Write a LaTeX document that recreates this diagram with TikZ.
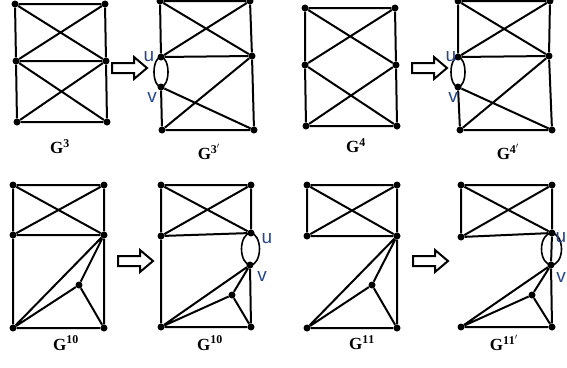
\documentclass[tikz,border=0pt]{standalone}
\usepackage{fontspec}
\setmainfont{Liberation Serif}
\newfontfamily\uvfont{Liberation Sans}
\usetikzlibrary{calc}
\definecolor{uvcol}{RGB}{40,70,140}
\tikzset{
  dot/.style={circle,fill=black,inner sep=0pt,minimum size=7pt},
  edge/.style={line width=2pt},
  lens/.style={line width=1.6pt},
  harrow/.style={line width=2pt,line join=miter},
  glabel/.style={font=\fontsize{17}{17}\selectfont\bfseries},
  uvlabel/.style={font=\uvfont\fontsize{19}{19}\selectfont,text=uvcol,inner sep=0pt}
}
\begin{document}
\begin{tikzpicture}[x=1pt,y=-1pt]
\useasboundingbox (0,0) rectangle (567,367);
% ---------- G3 ----------
\node[dot] (a1) at (15,4) {};
\node[dot] (a2) at (105,4) {};
\node[dot] (a3) at (16,61) {};
\node[dot] (a4) at (106,61) {};
\node[dot] (a5) at (17,122) {};
\node[dot] (a6) at (107,122) {};
\draw[edge] (a1)--(a2) (a1)--(a3) (a3)--(a5) (a2)--(a4) (a4)--(a6) (a5)--(a6) (a3)--(a4)
  (a1)--(a4) (a2)--(a3) (a3)--(a6) (a4)--(a5);
\node[glabel] (la) at (60,147) {G$^{\mathbf 3}$};
% arrow
\draw[harrow] (112,63) -- (134,63) -- (134,57) -- (147,68) -- (134,79) -- (134,73) -- (112,73) -- cycle;
% ---------- G3' ----------
\node[dot] (b1) at (160,1) {};
\node[dot] (b2) at (250,1) {};
\node[dot] (bu) at (161,57) {};
\node[dot] (b4) at (252,56) {};
\node[dot] (bv) at (161,87) {};
\node[dot] (b5) at (162,130) {};
\node[dot] (b6) at (254,130) {};
\draw[edge] (b1)--(b2) (b1)--(bu) (b2)--(b4) (b4)--(b6) (bu)--(b4) (b1)--(b4) (b2)--(bu)
  (bv)--(b5) (b5)--(b6) (bv)--(b6) (b4)--(b5);
\draw[lens] ($(bu)!0.5!(bv)$) ellipse [x radius=7, y radius=15];
\node[uvlabel] (lbu) at (149,57) {u};
\node[uvlabel] (lbv) at (152,97) {v};
\node[glabel] (lb) at (209,152) {G$^{\mathbf{3'}}$};
% ---------- G4 ----------
\node[dot] (c1) at (305,8) {};
\node[dot] (c2) at (395,8) {};
\node[dot] (c3) at (305,65) {};
\node[dot] (c4) at (396,65) {};
\node[dot] (c5) at (306,126) {};
\node[dot] (c6) at (397,126) {};
\draw[edge] (c1)--(c2) (c1)--(c3) (c3)--(c5) (c2)--(c4) (c4)--(c6) (c5)--(c6)
  (c1)--(c4) (c2)--(c3) (c3)--(c6) (c4)--(c5);
\node[glabel] (lc) at (356,146) {G$^{\mathbf 4}$};
\draw[harrow] (412,63) -- (434,63) -- (434,57) -- (447,68) -- (434,79) -- (434,73) -- (412,73) -- cycle;
% ---------- G4' ----------
\node[dot] (d1) at (458,1) {};
\node[dot] (d2) at (550,1) {};
\node[dot] (du) at (458,57) {};
\node[dot] (d4) at (549,56) {};
\node[dot] (dv) at (458,87) {};
\node[dot] (d5) at (460,130) {};
\node[dot] (d6) at (552,130) {};
\draw[edge] (d1)--(d2) (d1)--(du) (d2)--(d4) (d4)--(d6) (du)--(d4) (d1)--(d4) (d2)--(du)
  (dv)--(d5) (d5)--(d6) (dv)--(d6) (d4)--(d5);
\draw[lens] ($(du)!0.5!(dv)$) ellipse [x radius=7, y radius=15];
\node[uvlabel] (ldu) at (451,57) {u};
\node[uvlabel] (ldv) at (453,97) {v};
\node[glabel] (ld) at (508,152) {G$^{\mathbf{4'}}$};
% ---------- G10 ----------
\node[dot] (e1) at (13,185) {};
\node[dot] (e2) at (104,185) {};
\node[dot] (e3) at (13,235) {};
\node[dot] (e4) at (104,235) {};
\node[dot] (e5) at (13,328) {};
\node[dot] (e6) at (104,328) {};
\node[dot] (ep) at (79,285) {};
\draw[edge] (e1)--(e2) (e1)--(e3) (e3)--(e5) (e2)--(e4) (e4)--(e6) (e5)--(e6) (e3)--(e4)
  (e1)--(e4) (e2)--(e3) (e4)--(e5) (e4)--(ep) (ep)--(e5) (ep)--(e6);
\node[glabel] (le) at (66,343) {G$^{\mathbf{10}}$};
\draw[harrow] (118,256) -- (140,256) -- (140,250) -- (153,261) -- (140,272) -- (140,266) -- (118,266) -- cycle;
% ---------- G10' ----------
\node[dot] (f1) at (161,185) {};
\node[dot] (f2) at (251,185) {};
\node[dot] (f3) at (161,236) {};
\node[dot] (fu) at (251,233) {};
\node[dot] (fv) at (250,265) {};
\node[dot] (f5) at (161,327) {};
\node[dot] (f6) at (251,327) {};
\node[dot] (fp) at (232,295) {};
\draw[edge] (f1)--(f2) (f1)--(f3) (f3)--(f5) (f2)--(fu) (fv)--(f6) (f5)--(f6) (f3)--(fu)
  (f1)--(fu) (f2)--(f3) (fv)--(f5) (fv)--(fp) (fp)--(f5) (fp)--(f6);
\draw[lens] ($(fu)!0.5!(fv)$) ellipse [x radius=9, y radius=16];
\node[uvlabel] (lfu) at (267,239) {u};
\node[uvlabel] (lfv) at (262,276) {v};
\node[glabel] (lf) at (210,343) {G$^{\mathbf{10}}$};
% ---------- G11 ----------
\node[dot] (g1) at (307,185) {};
\node[dot] (g2) at (397,185) {};
\node[dot] (g3) at (307,236) {};
\node[dot] (g4) at (397,236) {};
\node[dot] (g5) at (307,328) {};
\node[dot] (g6) at (397,328) {};
\node[dot] (gp) at (372,285) {};
\draw[edge] (g1)--(g2) (g1)--(g3) (g2)--(g4) (g4)--(g6) (g5)--(g6) (g3)--(g4)
  (g1)--(g4) (g2)--(g3) (g4)--(g5) (g4)--(gp) (gp)--(g5) (gp)--(g6);
\node[glabel] (lg) at (362,343) {G$^{\mathbf{11}}$};
\draw[harrow] (413,256) -- (435,256) -- (435,250) -- (448,261) -- (435,272) -- (435,266) -- (413,266) -- cycle;
% ---------- G11' ----------
\node[dot] (h1) at (461,185) {};
\node[dot] (h2) at (552,185) {};
\node[dot] (h3) at (461,237) {};
\node[dot] (hu) at (552,233) {};
\node[dot] (hv) at (551,265) {};
\node[dot] (h5) at (461,327) {};
\node[dot] (h6) at (552,327) {};
\node[dot] (hp) at (532,295) {};
\draw[edge] (h1)--(h2) (h1)--(h3) (h2)--(hu) (hu)--(hv) (hv)--(h6) (h5)--(h6) (h3)--(hu)
  (h1)--(hu) (h2)--(h3) (hv)--(h5) (hv)--(hp) (hp)--(h5) (hp)--(h6);
\draw[lens] ($(hu)!0.5!(hv)$) ellipse [x radius=10, y radius=16];
\node[uvlabel] (lhu) at (561,238) {u};
\node[uvlabel] (lhv) at (561,277) {v};
\node[glabel] (lh) at (504,343) {G$^{\mathbf{11'}}$};
\end{tikzpicture}
\end{document}
